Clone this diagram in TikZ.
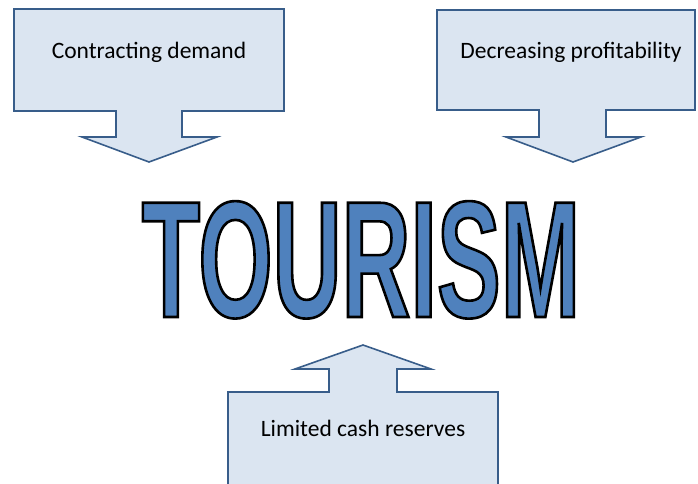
\documentclass[tikz,border=0pt]{standalone}
\usepackage{fontspec}
\setmainfont{Carlito}
\newfontfamily\bigsans{Liberation Sans}[BoldFont={* Bold}, FakeStretch=0.575]
\definecolor{calloutfill}{RGB}{219,229,241}
\definecolor{calloutline}{RGB}{56,93,138}
\definecolor{wordfill}{RGB}{79,129,189}
% fill-and-stroke text rendering through the dvipdfmx driver
\newcommand{\outlinedword}[1]{%
  \special{pdf:literal direct 2 Tr 2.6 w 0 0 0 RG}#1\special{pdf:literal direct 0 Tr 1 w}}
\tikzset{
  callout/.style={draw=calloutline, fill=calloutfill, line width=1.6pt, line join=miter},
  label/.style={font=\fontsize{23.5}{28}\selectfont, inner sep=0pt, text=black},
}
\begin{document}
\begin{tikzpicture}[x=1pt,y=-1pt]
\useasboundingbox (0,0) rectangle (698,484);
% down callout: contracting demand
\draw[callout] (14,9) -- (284,9) -- (284,111) -- (182,111) -- (182,137) -- (217,137)
  -- (149,162) -- (82,137) -- (116,137) -- (116,111) -- (14,111) -- cycle;
\node[label] (demand) at (149,52) {Contracting demand};
% down callout: decreasing profitability
\draw[callout] (437,10) -- (695,10) -- (695,110) -- (606,110) -- (606,137) -- (641,137)
  -- (573,162) -- (506,137) -- (539,137) -- (539,110) -- (437,110) -- cycle;
\node[label] (profit) at (571,52) {Decreasing profitability};
% up callout: limited cash reserves
\draw[callout] (228,495) -- (228,392) -- (329,392) -- (329,369) -- (295,369) -- (363,345)
  -- (431,369) -- (397,369) -- (397,392) -- (498,392) -- (498,495);
\node[label] (cash) at (363,428) {Limited cash reserves};
% central word: blue letters with a black outline
\node[anchor=base, inner sep=0pt, text=wordfill] (tourism) at (361,317)
  {\bigsans\bfseries\fontsize{166}{170}\selectfont\outlinedword{TOURISM}};
\end{tikzpicture}
\end{document}
